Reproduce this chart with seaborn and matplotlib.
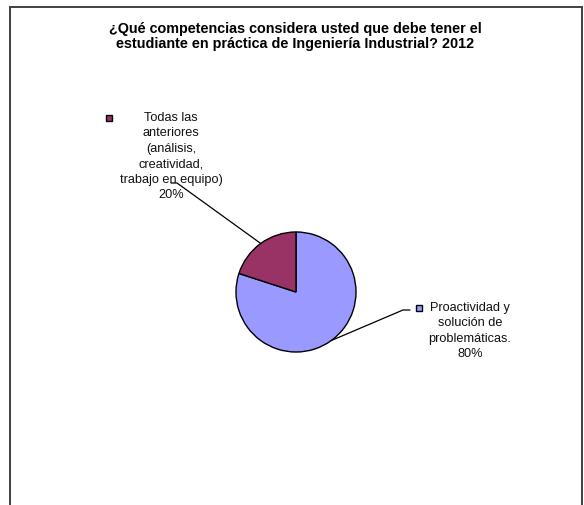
import numpy as np
import matplotlib
matplotlib.use("Agg")
import matplotlib.pyplot as plt
import seaborn as sns

# Survey answers (share of respondents)
categories = ["Proactividad y\nsolución de\nproblemáticas.",
              "Todas las\nanteriores\n(análisis,\ncreatividad,\ntrabajo en equipo)"]
values = [80, 20]
pct_labels = ["80%", "20%"]
colors = ["#9999FF", "#993366"]
title_lines = ["¿Qué competencias considera usted que debe tener el",
               "estudiante en práctica de Ingeniería Industrial? 2012"]

sns.set_theme(style="white")
plt.rcParams["font.family"] = ["Liberation Sans", "DejaVu Sans"]

W, H = 584, 505
fig = plt.figure(figsize=(W / 100, H / 100), dpi=100)
ax = fig.add_axes([0, 0, 1, 1])
ax.set_xlim(0, W)
ax.set_ylim(0, H)
ax.set_aspect("equal")
ax.axis("off")

# Chart frame (bottom edge runs past the canvas)
ax.plot([9.5, 9.5, 581.5, 581.5], [-5, H - 6.5, H - 6.5, -5],
        color="#404040", lw=1.4, solid_joinstyle="miter", clip_on=False)

cx, cy, r = 296, H - 292, 60
wedges, _ = ax.pie(values, colors=colors, startangle=90, counterclock=False,
                   center=(cx, cy), radius=r,
                   wedgeprops=dict(edgecolor="black", linewidth=1.0))
ax.set_xlim(0, W)
ax.set_ylim(0, H)

# Two-line bold title
for i, line in enumerate(title_lines):
    ax.text(295, H - (32.5 + i * 15.5), line, ha="center", va="baseline",
            fontsize=10.35, fontweight="bold", color="black")

# Label placement: (text centre x, first line y, marker x, elbow point, elbow end)
label_pos = [
    dict(tx=470, ty=308, mx=419, elbow=(403, 310), end=(410, 310)),
    dict(tx=171, ty=118, mx=109, elbow=(177, 183), end=(171, 183)),
]

for w, cat, pct, col, p in zip(wedges, categories, pct_labels, colors, label_pos):
    mid = np.deg2rad((w.theta1 + w.theta2) / 2)
    x0, y0 = cx + r * np.cos(mid), cy + r * np.sin(mid)
    ex, ey = p["elbow"]
    fx, fy = p["end"]
    ax.plot([x0, ex, fx], [y0, H - ey, H - fy], color="black", lw=0.9)
    for i, line in enumerate((cat + "\n" + pct).split("\n")):
        ax.text(p["tx"], H - (p["ty"] + i * 15.4), line, ha="center",
                va="center", fontsize=9.2, color="#111111")
    ax.add_patch(plt.Rectangle((p["mx"] - 3, H - p["ty"] - 3), 6, 6,
                               facecolor=col, edgecolor="black", lw=1.0))

fig.savefig("out.png", dpi=100, facecolor="white")
